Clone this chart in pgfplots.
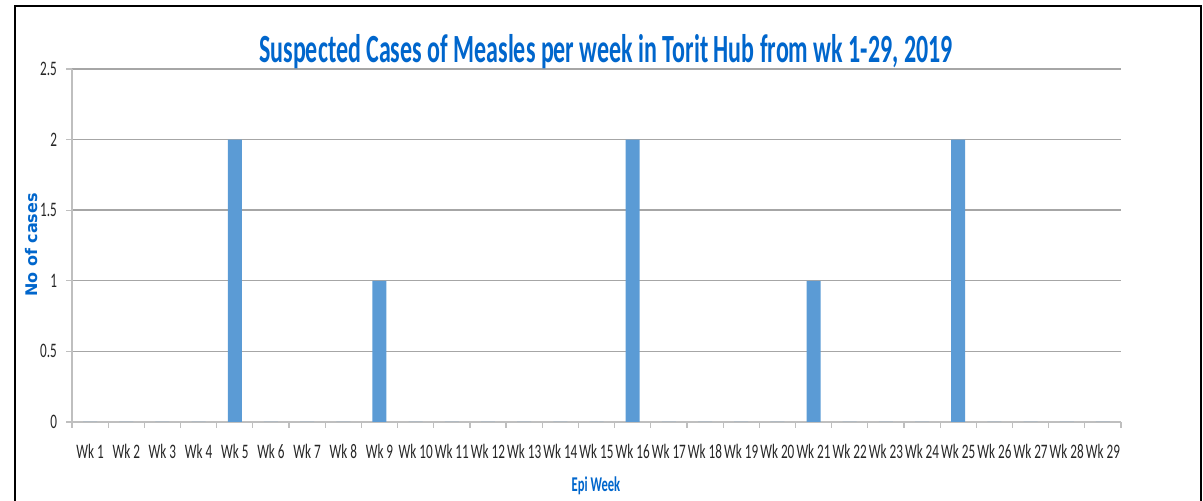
\documentclass[border=0pt]{standalone}
\usepackage{fontspec}
\usepackage{pgfplots}
\pgfplotsset{compat=1.18}
\setmainfont{Carlito}
\newfontfamily\condfont[FakeStretch=0.64]{Carlito}
\newfontfamily\condbold[FakeStretch=0.6]{Carlito Bold}
\newfontfamily\ylabfont{DejaVu Sans Bold}
\definecolor{barblue}{HTML}{5B9BD5}
\definecolor{titleblue}{HTML}{0066CC}
\definecolor{gridgray}{HTML}{A6A6A6}
\definecolor{axisgray}{HTML}{BFBFBF}
\begin{document}
\begin{tikzpicture}
\useasboundingbox (0,0) rectangle (601.5pt,250.5pt);
\draw[line width=1.1pt,black] (7.5pt,-5pt) -- (7.5pt,247.5pt) -- (600.3pt,247.5pt) -- (600.3pt,-5pt);
\begin{axis}[
  at={(36pt,39.5pt)}, anchor=south west,
  scale only axis, width=524.5pt, height=176.5pt,
  xmin=0.5, xmax=29.5, ymin=0, ymax=2.5,
  ytick={0,0.5,1,1.5,2,2.5},
  xtick={1,...,29},
  xticklabels={Wk 1,Wk 2,Wk 3,Wk 4,Wk 5,Wk 6,Wk 7,Wk 8,Wk 9,Wk 10,Wk 11,Wk 12,Wk 13,Wk 14,Wk 15,Wk 16,Wk 17,Wk 18,Wk 19,Wk 20,Wk 21,Wk 22,Wk 23,Wk 24,Wk 25,Wk 26,Wk 27,Wk 28,Wk 29},
  minor xtick={0.5,1.5,...,29.5},
  x tick style={draw=none},
  minor x tick style={draw=axisgray, line width=0.6pt},
  minor tick length=3pt,
  y tick style={draw=axisgray, line width=0.6pt},
  major tick length=3pt,
  tick align=outside,
  axis x line*=bottom, axis y line*=left,
  axis line style={-, draw=axisgray, line width=0.8pt},
  ymajorgrids, grid style={gridgray, line width=0.7pt},
  /pgf/number format/assume math mode=true,
  ticklabel style={font=\condfont\fontsize{10.3pt}{12pt}\selectfont, text=black!85},
  xticklabel style={yshift=-4.5pt},
  yticklabel style={xshift=-1pt},
  /pgf/number format/.cd, fixed, precision=1,
]
\addplot[ybar, bar width=7pt, fill=barblue, draw=none] coordinates {
(1,0) (2,0) (3,0) (4,0) (5,2) (6,0) (7,0) (8,0) (9,1) (10,0)
(11,0) (12,0) (13,0) (14,0) (15,0) (16,2) (17,0) (18,0) (19,0) (20,0)
(21,1) (22,0) (23,0) (24,0) (25,2) (26,0) (27,0) (28,0) (29,0)};
\end{axis}
\node[anchor=base, text=titleblue, font=\condbold\fontsize{20pt}{24pt}\selectfont] at (303pt,219pt) {Suspected Cases of Measles per week in Torit Hub from wk 1-29, 2019};
\node[anchor=center, text=titleblue, font=\condbold\fontsize{10.5pt}{12pt}\selectfont] at (298pt,7.5pt) {Epi Week};
\node[anchor=center, rotate=90, text=titleblue, font=\ylabfont\fontsize{8pt}{10pt}\selectfont] at (16pt,128pt) {No of cases};
\end{tikzpicture}
\end{document}
